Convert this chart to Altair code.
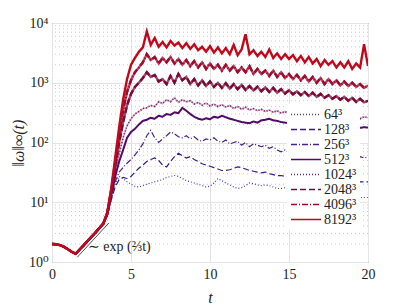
import altair as alt
import pandas as pd

FONT = "Liberation Serif, DejaVu Serif, serif"
t_step = 0.25

# shared early phase, t = 0 .. 3.25
early = [2.0, 1.98, 1.92, 1.8, 1.64, 1.48, 1.37, 1.62, 1.9, 2.25, 2.65, 3.1, 3.7, 4.4]

labels = ["64³", "128³", "256³", "512³", "1024³", "2048³", "4096³", "8192³"]

# t = 3.5 .. 20.0 step 0.25
n64 = [6.0, 11, 20, 27, 25, 22, 20, 18.5, 18, 19,
       20, 21, 22, 23, 24, 26, 27, 28, 27, 25,
       23, 22, 21, 20, 19, 18, 18.5, 21, 25, 23,
       21, 19.5, 18, 17, 17.5, 19, 21, 20.5, 19.5, 19,
       19.5, 19, 18, 17, 17, 17.5, 17, 16.5, 16, 15.5,
       15, 15, 14.5, 14.5, 14, 14, 13.5, 13.5, 13, 13,
       13, 12.5, 12.5, 12.5, 12, 12, 12]
n128 = [6.0, 11, 18, 24, 26, 25, 27, 32, 37, 42,
        48, 52, 55, 50, 42, 39, 48, 58, 66, 60,
        55, 58, 52, 48, 44, 42, 40, 38, 36, 34,
        34, 35, 37, 39, 38, 36, 34, 33, 32, 31,
        32, 30, 29, 28, 28, 27, 27, 26, 26, 25,
        25, 25, 24, 24, 24, 23, 24, 23, 23, 23,
        23, 22, 23, 22, 22, 22, 22]
n256 = [6.1, 12, 22, 32, 38, 45, 52, 62, 75, 95,
        130, 160, 120, 100, 115, 130, 150, 140, 125, 120,
        130, 115, 125, 110, 105, 115, 110, 120, 105, 100,
        110, 95, 100, 105, 90, 100, 85, 95, 90, 85,
        90, 80, 85, 75, 70, 75, 68, 72, 66, 70,
        65, 68, 62, 66, 60, 64, 62, 60, 63, 58,
        60, 57, 60, 56, 58, 55, 57]
n512 = [6.2, 13, 27, 48, 75, 120, 150, 170, 200, 230,
        240, 260, 250, 280, 270, 300, 290, 320, 310, 380,
        340, 300, 270, 250, 240, 255, 245, 270, 260, 280,
        265, 250, 240, 230, 220, 215, 210, 225, 215, 235,
        240, 250, 235, 230, 220, 215, 210, 205, 200, 200,
        195, 200, 190, 195, 190, 185, 190, 185, 180, 185,
        180, 185, 178, 182, 176, 180, 178]
n1024 = [6.3, 14, 32, 65, 120, 190, 250, 300, 330, 370,
         380, 420, 400, 480, 450, 520, 480, 560, 470, 520,
         480, 500, 440, 470, 420, 460, 410, 440, 400, 430,
         390, 420, 370, 400, 360, 390, 350, 370, 340, 360,
         330, 350, 320, 340, 310, 330, 300, 320, 300, 310,
         290, 310, 280, 300, 280, 300, 270, 290, 270, 290,
         260, 280, 260, 280, 250, 270, 260]
n2048 = [6.5, 15, 40, 100, 220, 420, 650, 850, 1000, 1200,
         1500, 1250, 1350, 1050, 1150, 950, 1300, 1000, 1400, 1100,
         1250, 950, 1150, 900, 1100, 880, 1050, 850, 1000, 820,
         980, 800, 950, 780, 920, 760, 880, 740, 860, 720,
         840, 700, 820, 680, 780, 660, 750, 640, 720, 620,
         700, 600, 680, 580, 650, 560, 620, 540, 600, 520,
         580, 500, 560, 480, 540, 470, 500]
n4096 = [6.6, 16, 48, 140, 350, 700, 1100, 1500, 1800, 2200,
         3000, 2400, 2700, 2100, 2600, 2200, 2700, 2100, 2500, 2000,
         2400, 1900, 2300, 1800, 2200, 1700, 2100, 1700, 2000, 1600,
         2000, 1600, 1900, 1500, 1800, 1500, 1900, 1400, 1700, 1400,
         1600, 1300, 1600, 1250, 1500, 1200, 1400, 1150, 1350, 1100,
         1300, 1050, 1250, 1000, 1200, 950, 1150, 950, 1100, 900,
         1050, 880, 1000, 850, 950, 820, 900]
n8192 = [6.8, 17, 55, 180, 520, 1150, 2000, 2600, 3300, 3900,
         7200, 4300, 5600, 4000, 4800, 3900, 5000, 4200, 4700, 3800,
         4600, 3700, 4400, 3500, 4000, 3300, 4100, 3200, 3900, 3100,
         3800, 3000, 4300, 2900, 3600, 6500, 3000, 3500, 2800, 3300,
         2700, 3600, 2600, 3100, 2500, 3000, 2500, 2900, 2300, 2800,
         2200, 2700, 2100, 2500, 1900, 2400, 2000, 2300, 1800, 2200,
         1800, 2300, 1700, 2100, 1800, 4400, 1900]

series = [n64, n128, n256, n512, n1024, n2048, n4096, n8192]
colors = ["#3d3dc4", "#2e1f8f", "#45238a", "#4f0a6a", "#7e1a66", "#7a0a35", "#9e0a2e", "#c0081c"]
dashes = [[1, 2], [6, 3], [6, 2, 1, 2], [1, 0], [1, 2], [6, 3], [6, 2, 1, 2], [1, 0]]
widths = [1.2, 1.2, 1.2, 2.0, 1.6, 2.4, 2.4, 2.4]
# dense high-resolution runs look like a filled band: a faint solid underlay per series
underlay = [0, 0, 0, 0, 0.35, 0.75, 0.75, 0]

# reference slope exp(2/3 t)
ref_t = [1.6, 3.6]
ref_v = [1.2, 4.5]

# annotation
ann_t = [2.28]
ann_v = [1.78]
ann_text = ["∼ exp (⅔t)"]

y_major = [1, 10, 100, 1000, 10000]
y_minor = [m * 10 ** e for e in range(4) for m in range(2, 10)]
x_ticks = [0, 5, 10, 15, 20]

xscale = alt.Scale(domain=[0, 20], nice=False)
yscale = alt.Scale(type="log", domain=[1, 10000], nice=False)

xax = alt.Axis(values=x_ticks, title="t", titleFontStyle="italic", titleFontSize=16,
               titleFontWeight="normal",
               titleFont=FONT, labelFont=FONT, labelFontSize=14, labelColor="#222",
               titleColor="#222", ticks=False, domain=False, labelPadding=5,
               titlePadding=8, grid=True, gridColor="#e4e4e4", labelFlush=False)
yax = alt.Axis(values=y_major, title="‖ω‖∞(t)", titleFont=FONT, titleFontSize=16,
               titleFontWeight="normal",
               titleFontStyle="italic", labelFont=FONT, labelFontSize=14, labelColor="#222",
               titleColor="#222", ticks=False, domain=False, labelPadding=4, titlePadding=2,
               grid=True, gridColor="#e4e4e4",
               labelExpr="datum.value == 1 ? '10⁰' : datum.value == 10 ? '10¹' : datum.value == 100 ? '10²' : datum.value == 1000 ? '10³' : '10⁴'")

minor = alt.Chart(pd.DataFrame({"v": y_minor})).mark_rule(
    color="#cdcdcd", strokeDash=[1, 3], strokeWidth=1
).encode(y=alt.Y("v:Q", scale=yscale, axis=yax))

leg = alt.Legend(title=None, orient="none", legendX=235, legendY=81, fillColor="white",
                 padding=3, symbolType="stroke", symbolSize=900, symbolStrokeWidth=1.3,
                 labelFont=FONT, labelFontSize=14, labelColor="#222", rowPadding=0,
                 clipHeight=15, symbolOffset=0, labelOffset=2)

layers = [minor]
for lab, vals, w, col, u in zip(labels, series, widths, colors, underlay):
    full = early + vals
    d = pd.DataFrame({"t": [i * t_step for i in range(len(full))], "w": full, "N": lab})
    if u > 0:
        layers.append(
            alt.Chart(d).mark_line(strokeWidth=w, color=col, opacity=u, clip=True).encode(
                x=alt.X("t:Q", scale=xscale, axis=xax),
                y=alt.Y("w:Q", scale=yscale, axis=yax),
            )
        )
    layers.append(
        alt.Chart(d).mark_line(strokeWidth=w, clip=True).encode(
            x=alt.X("t:Q", scale=xscale, axis=xax),
            y=alt.Y("w:Q", scale=yscale, axis=yax),
            color=alt.Color("N:N", scale=alt.Scale(domain=labels, range=colors), legend=leg),
            strokeDash=alt.StrokeDash("N:N", scale=alt.Scale(domain=labels, range=dashes), legend=leg),
        )
    )

ref = alt.Chart(pd.DataFrame({"t": ref_t, "w": ref_v})).mark_line(
    color="#555", strokeWidth=1
).encode(x=alt.X("t:Q", scale=xscale), y=alt.Y("w:Q", scale=yscale))

ann = alt.Chart(pd.DataFrame({"t": ann_t, "w": ann_v, "s": ann_text})).mark_text(
    align="left", baseline="middle", font=FONT, fontSize=14, color="#222"
).encode(x=alt.X("t:Q", scale=xscale), y=alt.Y("w:Q", scale=yscale), text="s:N")

layers += [ref, ann]

chart = alt.layer(*layers).properties(
    width=316, height=239,
    autosize=alt.AutoSizeParams(type="none"),
    padding={"left": 44, "top": 15, "right": 31, "bottom": 44},
    background="white",
).configure_view(stroke="#6a6a6a", strokeWidth=1)

chart.save("out.html", embed_options={"renderer": "svg", "actions": False})
